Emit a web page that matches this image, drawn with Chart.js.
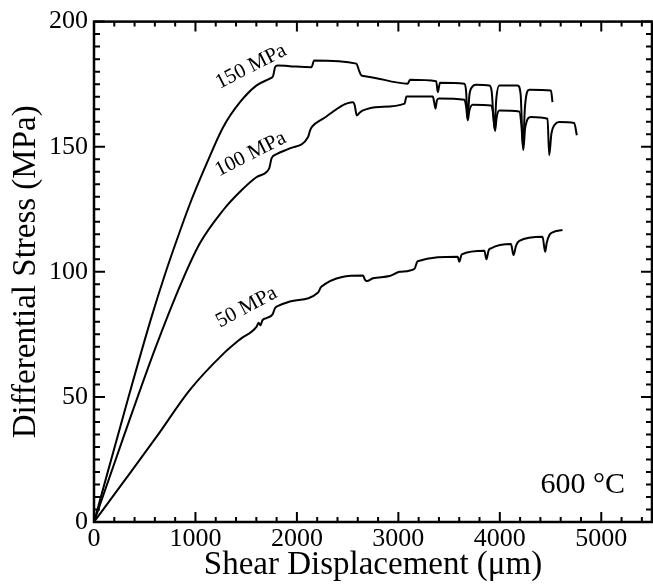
<!DOCTYPE html>
<html lang="en">
<head>
    <meta charset="UTF-8">
    <title>Differential Stress vs Shear Displacement</title>
    <script src="https://cdn.jsdelivr.net/npm/chart.js"></script>
    <style>
        body { margin: 0; background: #fff; }
        canvas { display: block; }
    </style>
</head>
<body>
<canvas id="stressChart" width="653" height="587"></canvas>

<script>
    // Shear displacement (um) and differential stress (MPa)
    const disp150 = [0, 330, 560, 700, 816, 947, 1111, 1274, 1439, 1603, 1733, 1765, 1785, 1810, 1930, 2144, 2170, 2586, 2612, 2635, 2684,
        3093, 3115, 3373, 3389, 3410, 3651, 3668, 3682, 3700, 3725, 3766, 3897, 3920, 3948, 3965, 3995, 4175, 4205, 4228, 4248, 4290, 4504, 4519];
    const stress150 = [0, 48.5, 81, 99, 112.7, 127.3, 143.3, 157.9, 167.8, 174.5, 177.2, 178.2, 181.8, 182.5, 182.2, 181.8, 184.5, 183.2, 180.5, 178.5, 178.1,
        175.2, 176.8, 176.2, 171.8, 175.6, 175.2, 172, 161, 170.5, 173.8, 174.8, 174.5, 172, 157, 169, 174.5, 174.5, 171, 150, 166, 172.8, 172.5, 167.8];

    const disp100 = [0, 300, 600, 865, 1045, 1274, 1439, 1600, 1701, 1728, 1750, 1800, 1930, 2110, 2130, 2150, 2258, 2553, 2570, 2590, 2615, 2651,
        2815, 3061, 3080, 3339, 3352, 3366, 3380, 3400, 3651, 3668, 3684, 3700, 3733, 3913, 3935, 3953, 3970, 3995, 4191, 4212, 4231, 4250, 4307,
        4470, 4487, 4508, 4545, 4585, 4733, 4759];
    const stress100 = [0, 35, 69, 96, 111.5, 124.7, 132, 137.8, 139.9, 141.5, 145.3, 147, 149.3, 153.9, 156.5, 158, 161.2, 167.8, 166.5, 162.5, 163.5, 164.5,
        165.9, 167.2, 170.1, 170.1, 168, 165.2, 168.5, 169.3, 168.8, 166, 160.5, 164.5, 166.8, 166.5, 163, 156.3, 162, 164.5, 164.1, 159, 148.6, 157.5, 161.9,
        161.2, 146.6, 155, 159, 159.9, 159.5, 154.6];

    const disp50 = [0, 291, 619, 947, 1274, 1439, 1603, 1622, 1640, 1660, 1701, 1760, 1785, 1815, 1930, 2209, 2240, 2651, 2672, 2690, 2749, 2913,
        3012, 3159, 3190, 3585, 3600, 3625, 3848, 3868, 3890, 3913, 4110, 4135, 4160, 4192, 4421, 4447, 4462, 4490, 4520, 4618];
    const stress50 = [0, 16, 34.2, 52.9, 67.2, 73, 78.1, 79.6, 78.6, 80.6, 81.5, 83, 85.5, 86.4, 88.1, 91.7, 94, 98.5, 96.8, 96.3, 97.4, 98.3,
        100, 101.2, 104.2, 106, 104, 107, 108.4, 105, 108.6, 109.4, 111.1, 106.7, 110.5, 112.4, 114, 108, 111.5, 114.8, 115.8, 116.7];

    const curveLabels = ['150 MPa', '100 MPa', '50 MPa'];
    const xTickValues = [0, 1000, 2000, 3000, 4000, 5000];
    const yTickValues = [0, 50, 100, 150, 200];

    const serif = "'Liberation Serif', 'Times New Roman', serif";

    function toPoints(xs, ys) {
        return xs.map((v, i) => ({ x: v, y: ys[i] }));
    }

    function curve(label, xs, ys) {
        return {
            label: label,
            data: toPoints(xs, ys),
            showLine: true,
            borderColor: '#000',
            borderWidth: 2,
            pointRadius: 0,
            cubicInterpolationMode: 'monotone',
            fill: false
        };
    }

    // frame round the plot with inward major/minor ticks on all four sides
    const frameTicks = {
        id: 'frameTicks',
        afterDatasetsDraw(chart) {
            const { ctx, chartArea: a, scales: { x, y } } = chart;
            ctx.save();
            ctx.strokeStyle = '#000';
            ctx.lineWidth = 2;
            ctx.beginPath();
            for (let v = 0; v <= 5500; v += 200) {
                const px = x.getPixelForValue(v);
                const len = v % 1000 === 0 ? 10 : 5;
                ctx.moveTo(px, a.bottom); ctx.lineTo(px, a.bottom - len);
                ctx.moveTo(px, a.top); ctx.lineTo(px, a.top + len);
            }
            for (let v = 0; v <= 200; v += 5) {
                const py = y.getPixelForValue(v);
                const len = v % 50 === 0 ? 11 : 6;
                ctx.moveTo(a.left, py); ctx.lineTo(a.left + len, py);
                ctx.moveTo(a.right, py); ctx.lineTo(a.right - len, py);
            }
            ctx.stroke();
            ctx.lineWidth = 2.5;
            ctx.strokeRect(a.left, a.top, a.right - a.left, a.bottom - a.top);
            ctx.restore();
        }
    };

    // curve names and the temperature note
    const notes = {
        id: 'notes',
        afterDatasetsDraw(chart) {
            const { ctx, scales: { x, y } } = chart;
            const spots = [
                { text: curveLabels[0], x: 1548, y: 182, rot: -27 },
                { text: curveLabels[1], x: 1544, y: 147, rot: -27 },
                { text: curveLabels[2], x: 1504, y: 85.8, rot: -28 }
            ];
            ctx.save();
            ctx.fillStyle = '#000';
            ctx.font = '21px ' + serif;
            ctx.textAlign = 'center';
            ctx.textBaseline = 'middle';
            spots.forEach(s => {
                ctx.save();
                ctx.translate(x.getPixelForValue(s.x), y.getPixelForValue(s.y));
                ctx.rotate(s.rot * Math.PI / 180);
                ctx.fillText(s.text, 0, 0);
                ctx.restore();
            });
            ctx.font = '30px ' + serif;
            ctx.textAlign = 'right';
            ctx.textBaseline = 'alphabetic';
            ctx.fillText('600 °C', x.getPixelForValue(5234), y.getPixelForValue(11.6));
            ctx.restore();
        }
    };

    const ctx = document.getElementById('stressChart').getContext('2d');
    new Chart(ctx, {
        type: 'scatter',
        data: {
            datasets: [
                curve(curveLabels[0], disp150, stress150),
                curve(curveLabels[1], disp100, stress100),
                curve(curveLabels[2], disp50, stress50)
            ]
        },
        options: {
            responsive: false,
            animation: false,
            layout: { padding: { top: 21, right: 1, left: 0, bottom: 0 } },
            plugins: {
                legend: { display: false },
                tooltip: { enabled: false }
            },
            scales: {
                x: {
                    type: 'linear',
                    min: 0,
                    max: 5500,
                    grid: { display: false, drawTicks: false },
                    border: { display: false },
                    afterBuildTicks: scale => { scale.ticks = xTickValues.map(v => ({ value: v })); },
                    ticks: {
                        autoSkip: false,
                        maxRotation: 0,
                        padding: 2,
                        color: '#000',
                        font: { family: serif, size: 26 },
                        callback: v => String(v)
                    },
                    title: {
                        display: true,
                        text: 'Shear Displacement (μm)',
                        color: '#000',
                        font: { family: serif, size: 33 },
                        padding: { top: 0, bottom: 2 }
                    },
                    afterFit: scale => { scale.height = 65; }
                },
                y: {
                    min: 0,
                    max: 200,
                    grid: { display: false, drawTicks: false },
                    border: { display: false },
                    afterBuildTicks: scale => { scale.ticks = yTickValues.map(v => ({ value: v })); },
                    ticks: {
                        autoSkip: false,
                        padding: 6,
                        color: '#000',
                        font: { family: serif, size: 26 },
                        callback: v => String(v)
                    },
                    title: {
                        display: true,
                        text: 'Differential Stress (MPa)',
                        color: '#000',
                        font: { family: serif, size: 33 },
                        padding: { top: 7, bottom: 0 }
                    },
                    afterFit: scale => { scale.width = 94; }
                }
            }
        },
        plugins: [frameTicks, notes]
    });
</script>
</body>
</html>
